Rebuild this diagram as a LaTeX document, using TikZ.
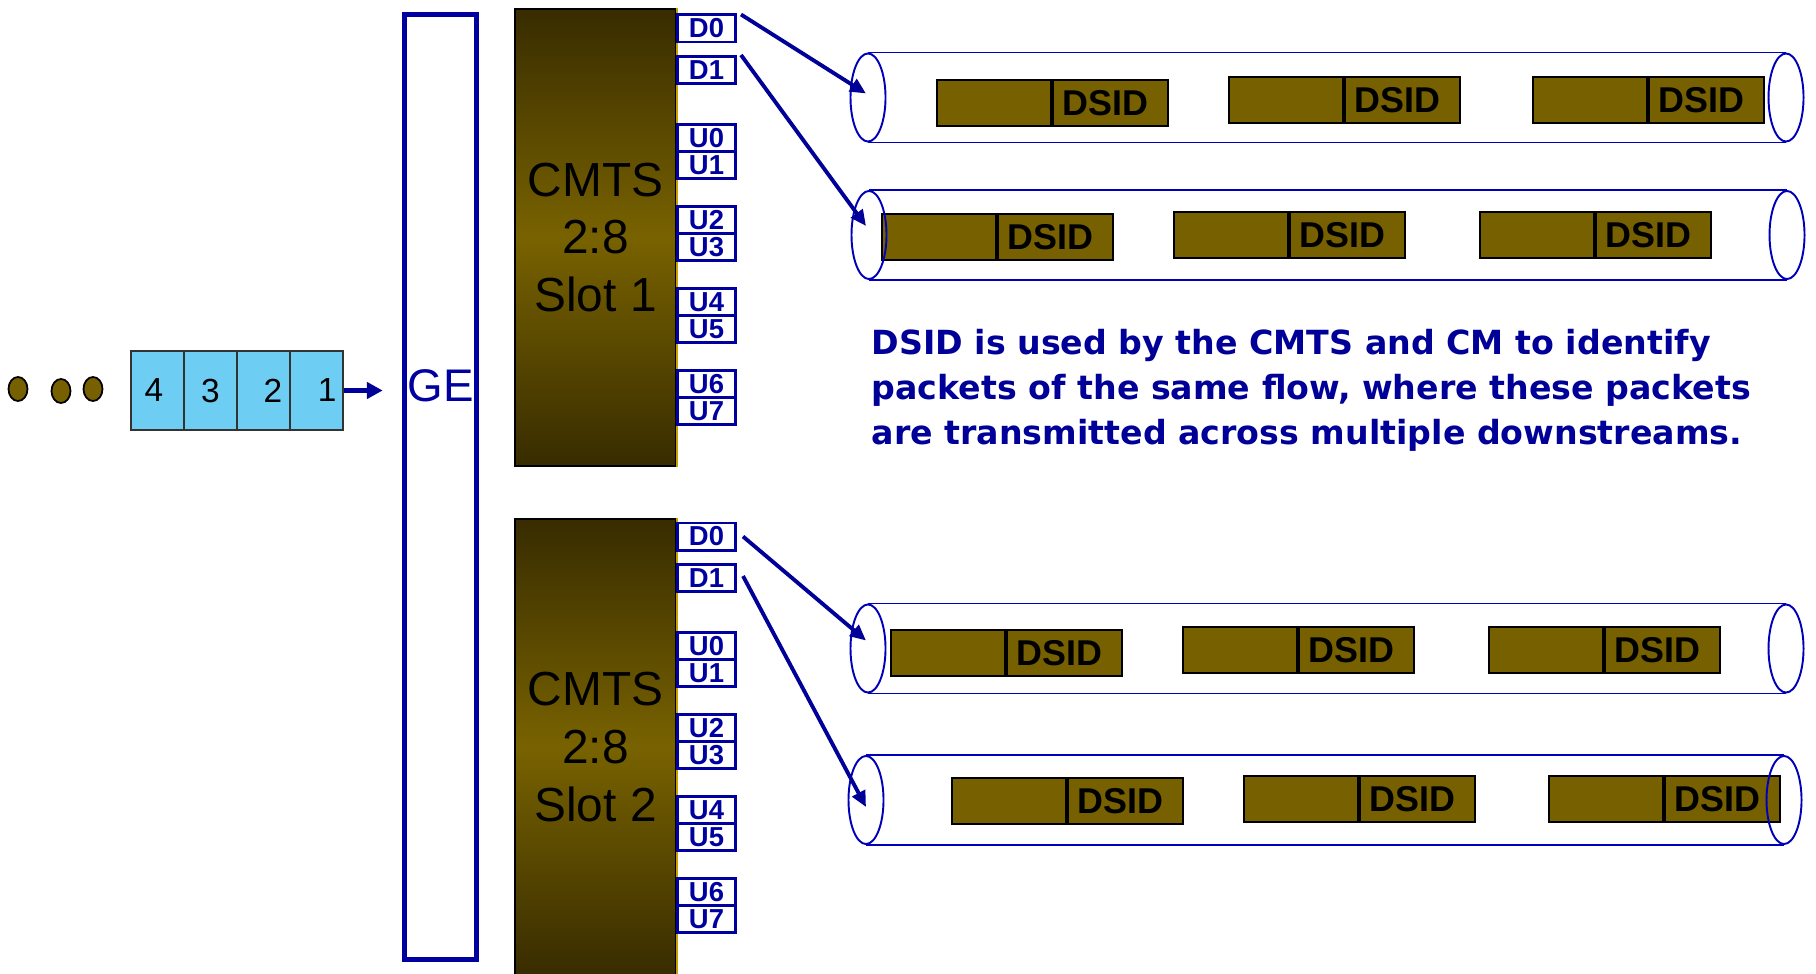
\documentclass[tikz,border=0pt]{standalone}
\usepackage{fontspec}
\setmainfont{Liberation Sans}
\newfontfamily\notefont{DejaVu Sans}
\usetikzlibrary{arrows.meta,shapes.geometric,calc}
\definecolor{portblue}{HTML}{0000A0}
\definecolor{tubeblue}{HTML}{0000B8}
\definecolor{arrowblue}{HTML}{000099}
\definecolor{notecol}{HTML}{000099}
\definecolor{olive}{HTML}{766000}
\definecolor{cmtsdark}{HTML}{382C00}
\definecolor{cmtsmid}{HTML}{786200}
\definecolor{cmtsedge}{HTML}{C8A000}
\definecolor{qblue}{HTML}{6ECDF3}
\newcommand\mkpacket[3]{%
  \node[pktL, anchor=north west] (#1a) at (#2,#3) {};
  \node[pktR, anchor=north west] (#1b) at (#1a.north east) {\hspace*{-3pt}DSID};
}
\newcommand\mktube[4]{%
  \node[tubeend] (#1L) at (#2,#4) {};
  \node[tubeend] (#1R) at (#3,#4) {};
  \draw[tubeline] (#1L.north) -- (#1R.north) (#1L.south) -- (#1R.south);
}
\begin{document}
\begin{tikzpicture}[x=0.01cm,y=-0.01cm,
  portbox/.style={draw=portblue, line width=0.85pt, fill=white, minimum width=0.58cm,
    minimum height=0.27cm, inner sep=0pt, text=portblue,
    font=\fontsize{7.8}{7.8}\selectfont\bfseries},
  cmts/.style={draw=black, line width=0.4pt, top color=cmtsdark, bottom color=cmtsdark,
    middle color=cmtsmid, minimum width=1.61cm, inner sep=0pt, align=center,
    font=\fontsize{13.6}{16.4}\selectfont},
  gebox/.style={draw=portblue, line width=1.4pt, minimum width=0.72cm, minimum height=9.45cm, inner sep=0pt},
  getext/.style={text=portblue, font=\fontsize{13}{13}\selectfont, inner sep=0pt},
  pktL/.style={draw=black, fill=olive, line width=0.6pt, minimum width=1.14cm, minimum height=0.46cm, inner sep=0pt},
  pktR/.style={pktL, minimum width=1.15cm, font=\fontsize{10.2}{10.2}\selectfont\bfseries},
  tubeend/.style={ellipse, draw=tubeblue, line width=0.55pt, minimum width=0.35cm, minimum height=0.88cm, inner sep=0pt},
  tubeline/.style={draw=tubeblue, line width=0.55pt},
  dsarrow/.style={draw=arrowblue, line width=1.1pt, -{Triangle[length=4.5pt,width=4pt]}},
  qarrow/.style={draw=arrowblue, line width=1.2pt, -{Triangle[length=4.5pt,width=4.6pt]}, shorten >=5.5pt},
  qbox/.style={draw=black!80, fill=qblue, line width=0.6pt, minimum width=0.53cm, minimum height=0.79cm,
    inner sep=0pt, font=\fontsize{9.5}{9.5}\selectfont},
  dotnode/.style={ellipse, draw=black, line width=0.5pt, fill=olive, minimum width=0.19cm, minimum height=0.24cm, inner sep=0pt},
  note/.style={text=notecol, align=left, inner sep=0pt,
    font=\notefont\bfseries\fontsize{9.45}{12.8}\selectfont}
]
\useasboundingbox (0,0) rectangle (1816,973);

% dots and queue
\node[dotnode] (dot1) at (18,389) {};
\node[dotnode] (dot2) at (61,391) {};
\node[dotnode] (dot3) at (93,389) {};
\node[qbox] (q4) at (157.5,390.5) {\raisebox{-1.8pt}{4}\hspace*{2pt}};
\node[qbox] (q3) at (210.5,390.5) {\raisebox{-1.8pt}{3}};
\node[qbox] (q2) at (263.5,390.5) {\hspace*{5.4pt}\raisebox{-1.8pt}{2}};
\node[qbox] (q1) at (316.5,390.5) {\hspace*{6pt}\raisebox{-1.8pt}{1}};

% GE
\node[gebox] (ge) at (440.5,487) {};
\node[getext] (getxt) at (440.5,386) {GE};
\draw[qarrow] (q1.east) -- (q1.east -| ge.west);

% CMTS slots
\node[cmts, minimum height=4.57cm] (s1) at (595.5,237.5) {CMTS\\2:8\\Slot 1};
\node[cmts, minimum height=4.56cm] (s2) at (595.5,747) {CMTS\\2:8\\Slot 2};
\draw[cmtsedge, line width=0.6pt] (s1.north east) -- (s1.south east);
\draw[cmtsedge, line width=0.6pt] (s2.north east) -- (s2.south east);

\foreach \nm/\lab/\yy in {d0/D0/28.5, d1/D1/70, u0/U0/138, u1/U1/165, u2/U2/220, u3/U3/247,
    u4/U4/302, u5/U5/329, u6/U6/384, u7/U7/411} {
  \node[portbox] (s1\nm) at (706.5,\yy) {\lab};
  \node[portbox] (s2\nm) at (706.5,\yy+508) {\lab};
}

% packets
\mkpacket{pa1}{936}{79}
\mkpacket{pa2}{1228}{76}
\mkpacket{pa3}{1532}{76}
\mkpacket{pb1}{881}{213}
\mkpacket{pb2}{1173}{211}
\mkpacket{pb3}{1479}{211}
\mkpacket{pc1}{890}{629}
\mkpacket{pc2}{1182}{626}
\mkpacket{pc3}{1488}{626}
\mkpacket{pd1}{951}{777}
\mkpacket{pd2}{1243}{775}
\mkpacket{pd3}{1548}{775}

% tubes
\mktube{ta}{868}{1786}{97.5}
\mktube{tb}{869}{1787}{235}
\mktube{tc}{868}{1786}{648.5}
\mktube{td}{866}{1784}{800}

% downstream arrows
\draw[dsarrow] ($(s1d0.north east)+(4,1)$) -- ($(taL.center)+(-2,-4)$);
\draw[dsarrow] ($(s1d1.north east)+(4,0)$) -- ($(tbL.center)+(-3,-9)$);
\draw[dsarrow] ($(s2d0.east)+(6,0)$) -- ($(tcL.center)+(-2,-8)$);
\draw[dsarrow] ($(s2d1.east)+(6,-2)$) -- ($(tdL.center)+(0,7)$);

% note
\node[note, anchor=west] (note) at (871,390) {DSID is used by the CMTS and CM to identify\\packets of the same flow, where these packets\\are transmitted across multiple downstreams.};
\end{tikzpicture}
\end{document}
